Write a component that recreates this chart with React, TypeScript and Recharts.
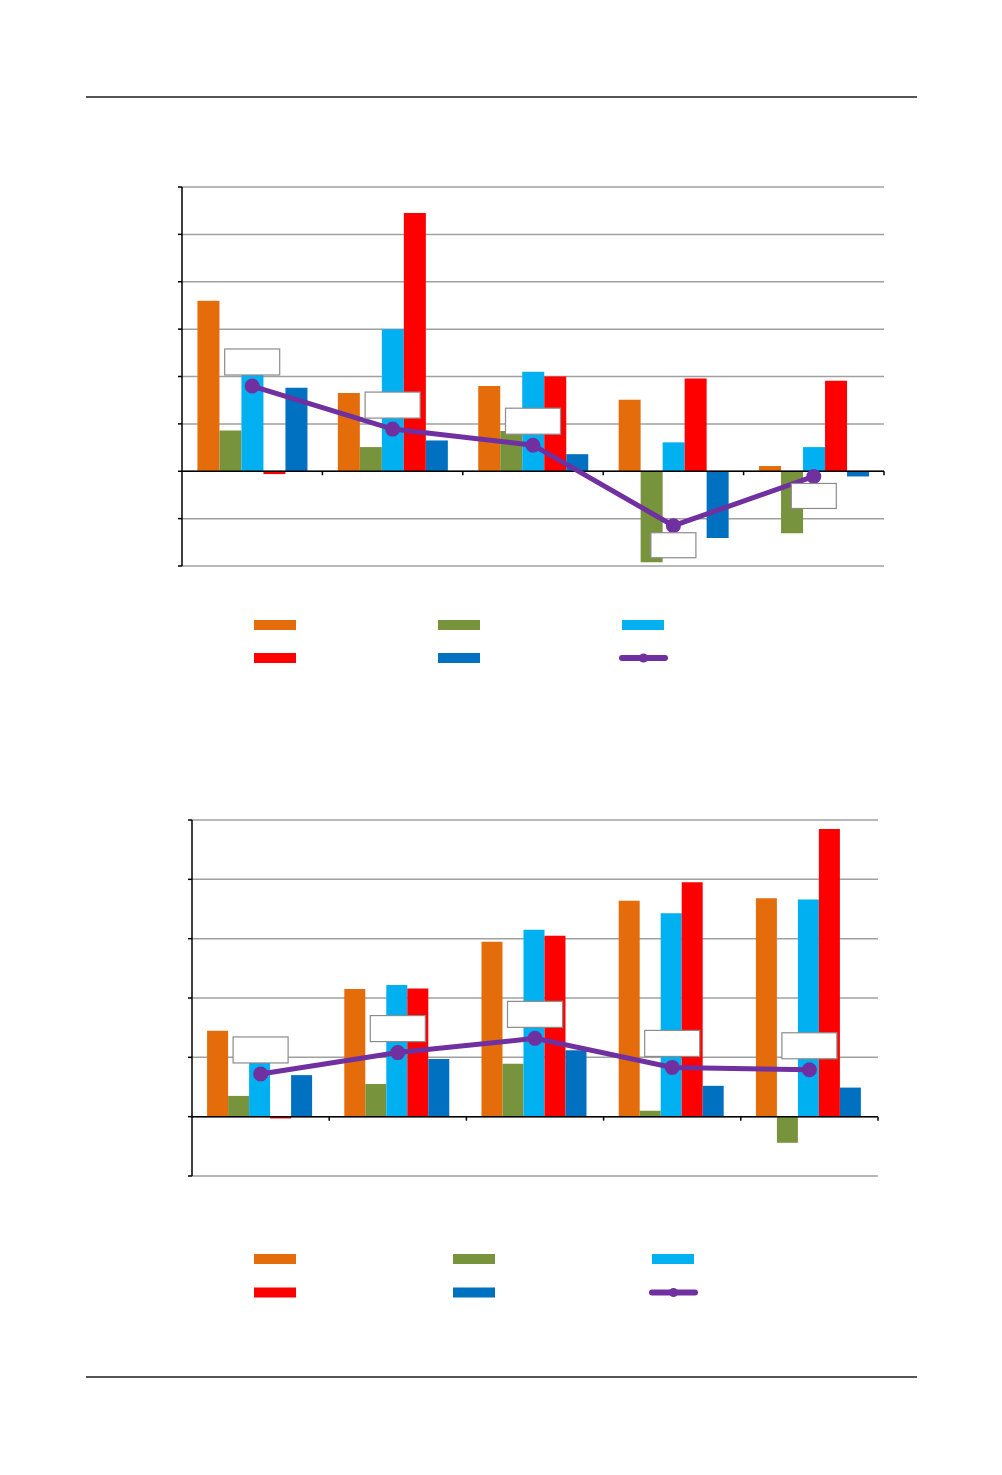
import React from "react"
import {
  ComposedChart,
  Bar,
  Line,
  XAxis,
  YAxis,
  CartesianGrid,
  ReferenceLine,
  LabelList,
} from "recharts"

// categories (text not visible in the picture, kept as placeholders)
const categories = ["A", "B", "C", "D", "E"]

// chart 1 series
const top1 = [3.6, 1.65, 1.8, 1.51, 0.11]
const top2 = [0.86, 0.51, 0.85, -1.92, -1.31]
const top3 = [2.2, 3.0, 2.1, 0.61, 0.51]
const top4 = [-0.06, 5.45, 2.0, 1.96, 1.91]
const top5 = [1.76, 0.65, 0.36, -1.41, -0.11]
const topLine = [1.8, 0.89, 0.55, -1.15, -0.11]
const topTicks = [-2, -1, 0, 1, 2, 3, 4, 5, 6]

// chart 2 series
const bot1 = [1.45, 2.15, 2.95, 3.64, 3.68]
const bot2 = [0.35, 0.55, 0.89, 0.1, -0.44]
const bot3 = [1.0, 2.22, 3.15, 3.43, 3.66]
const bot4 = [-0.03, 2.16, 3.05, 3.95, 4.85]
const bot5 = [0.7, 0.97, 1.12, 0.52, 0.49]
const botLine = [0.72, 1.08, 1.32, 0.83, 0.79]
const botTicks = [-1, 0, 1, 2, 3, 4, 5]

const colors = ["#E46C0A", "#77933C", "#00B0F0", "#FF0000", "#0070C0"]
const lineColor = "#7030A0"

const build = (s: number[][], line: number[]) =>
  categories.map((c, i) => ({
    cat: c,
    s1: s[0][i],
    s2: s[1][i],
    s3: s[2][i],
    s4: s[3][i],
    s5: s[4][i],
    line: line[i],
  }))

const data1 = build([top1, top2, top3, top4, top5], topLine)
const data2 = build([bot1, bot2, bot3, bot4, bot5], botLine)

const zeroAxis = (props: any) => {
  const { x1, y1, x2 } = props
  const step = (x2 - x1) / categories.length
  return (
    <g>
      <line x1={x1} y1={y1} x2={x2} y2={y1} stroke="#000" strokeWidth={1.5} />
      {categories.map((_, i) => (
        <line
          key={i}
          x1={x1 + step * (i + 1)}
          x2={x1 + step * (i + 1)}
          y1={y1}
          y2={y1 + 4}
          stroke="#000"
          strokeWidth={1.5}
        />
      ))}
    </g>
  )
}

const boxLabel = (props: any) => {
  const { x, y, value } = props
  if (value < 0) {
    return <rect x={x - 22.5} y={y + 7} width={45} height={25} fill="#fff" stroke="#8C8C8C" strokeWidth={1.2} />
  }
  return <rect x={x - 27.5} y={y - 37} width={55} height={26} fill="#fff" stroke="#8C8C8C" strokeWidth={1.2} />
}

const noText = () => <g />

function Chart({ data, ticks, left, right, top, height }: any) {
  return (
    <ComposedChart
      width={1002}
      height={height}
      data={data}
      margin={{ top, right: 1002 - right, bottom: 14, left: 0 }}
      barCategoryGap="11%"
      barGap={0}
    >
      <CartesianGrid vertical={false} stroke="#A0A0A0" strokeWidth={1.5} />
      <XAxis dataKey="cat" hide />
      <YAxis
        width={left}
        domain={[ticks[0], ticks[ticks.length - 1]]}
        ticks={ticks}
        interval={0}
        tick={noText}
        tickSize={4}
        axisLine={{ stroke: "#000", strokeWidth: 1.5 }}
        tickLine={{ stroke: "#000", strokeWidth: 1.5 }}
      />
      {["s1", "s2", "s3", "s4", "s5"].map((k, i) => (
        <Bar key={k} dataKey={k} fill={colors[i]} isAnimationActive={false} />
      ))}
      <ReferenceLine y={0} shape={zeroAxis} />
      <Line
        dataKey="line"
        stroke={lineColor}
        strokeWidth={5}
        dot={{ r: 5, fill: lineColor, stroke: lineColor }}
        isAnimationActive={false}
      >
        <LabelList dataKey="line" content={boxLabel} />
      </Line>
    </ComposedChart>
  )
}

function LegendBlock({ cols, rows }: { cols: number[]; rows: number[] }) {
  const items = [0, 1, 2, 3, 4, 5]
  return (
    <svg width={1002} height={80} style={{ position: "absolute", left: 0, top: rows[0] - 20 }}>
      {items.map((i) => {
        const x = cols[i % 3]
        const y = rows[Math.floor(i / 3)] - rows[0] + 20
        if (i < 5) {
          return <rect key={i} x={x} y={y - 5} width={42} height={10} fill={colors[i]} />
        }
        return (
          <g key={i}>
            <line x1={x} x2={x + 43} y1={y} y2={y} stroke={lineColor} strokeWidth={6} strokeLinecap="round" />
            <circle cx={x + 21.5} cy={y} r={4.5} fill={lineColor} />
          </g>
        )
      })}
    </svg>
  )
}

export default function App() {
  return (
    <div style={{ position: "absolute", left: 0, top: 0, width: 1002, height: 1475, background: "#fff" }}>
      <div style={{ position: "absolute", left: 86, top: 96, width: 831, height: 1.5, background: "#555" }} />
      <div style={{ position: "absolute", left: 0, top: 0 }}>
        <Chart data={data1} ticks={topTicks} left={182} right={884} top={187} height={580} />
      </div>
      <LegendBlock cols={[254, 438, 622]} rows={[624.5, 657.5]} />
      <div style={{ position: "absolute", left: 0, top: 600 }}>
        <Chart data={data2} ticks={botTicks} left={192} right={878} top={220} height={590} />
      </div>
      <LegendBlock cols={[254, 453, 652]} rows={[1258.5, 1292]} />
      <div style={{ position: "absolute", left: 86, top: 1376, width: 831, height: 1.5, background: "#555" }} />
    </div>
  )
}
